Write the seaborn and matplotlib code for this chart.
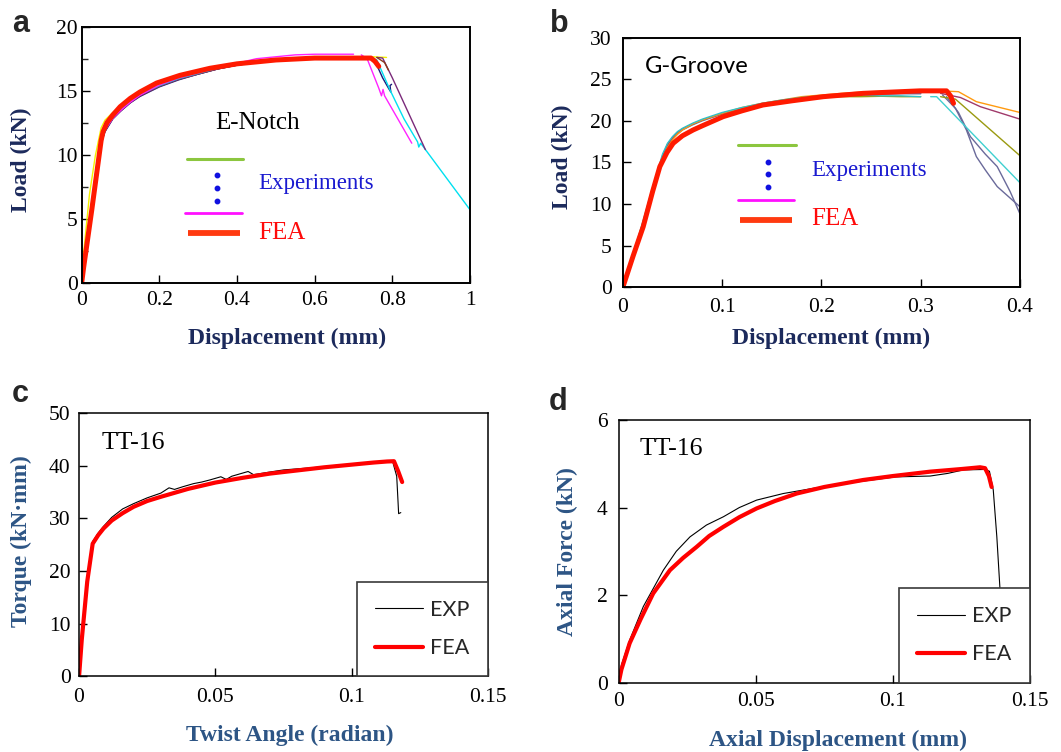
import matplotlib
matplotlib.use("Agg")
import matplotlib.pyplot as plt
import seaborn as sns
from matplotlib.ticker import MultipleLocator, FuncFormatter

# ---------------- DATA ----------------
# Panel a : E-Notch, load (kN) vs displacement (mm)
a_fea_x = [0, 0.005, 0.026, 0.05, 0.055, 0.065, 0.08, 0.099, 0.125, 0.15, 0.193, 0.253, 0.33, 0.4, 0.5, 0.6, 0.7, 0.745, 0.755, 0.765]
a_fea_y = [0, 1.2, 5.7, 11.1, 11.8, 12.5, 13.1, 13.75, 14.4, 14.9, 15.6, 16.2, 16.75, 17.1, 17.4, 17.55, 17.55, 17.55, 17.3, 16.9]

a_rise_x = [0, 0.005, 0.02, 0.035, 0.05, 0.06, 0.08, 0.1, 0.125, 0.15, 0.2, 0.25, 0.3, 0.35, 0.4, 0.45, 0.5, 0.55, 0.6, 0.65, 0.7]
a_yellow_y = [0, 2.3, 6.9, 9.9, 12.1, 12.7, 13.3, 13.8, 14.4, 14.9, 15.6, 16.1, 16.5, 16.85, 17.1, 17.3, 17.45, 17.55, 17.6, 17.65, 17.65]
a_navy_y = [0, 1.2, 4.6, 8.0, 10.9, 11.8, 12.8, 13.4, 14.05, 14.55, 15.3, 15.85, 16.3, 16.7, 17.0, 17.2, 17.35, 17.45, 17.5, 17.55, 17.55]
a_cyan_y = [0, 1.4, 5.0, 8.4, 11.2, 12.0, 12.9, 13.5, 14.15, 14.7, 15.4, 15.95, 16.35, 16.75, 17.05, 17.25, 17.4, 17.5, 17.55, 17.6, 17.6]
a_magenta_y = [0, 1.3, 4.9, 8.3, 11.1, 11.95, 12.85, 13.45, 14.1, 14.65, 15.45, 16.0, 16.4, 16.8, 17.15, 17.5, 17.65, 17.8, 17.85, 17.85, 17.85]
a_purple_y = [0, 1.2, 4.7, 8.1, 10.9, 11.85, 12.8, 13.4, 14.05, 14.6, 15.35, 15.9, 16.3, 16.7, 17.0, 17.25, 17.4, 17.5, 17.55, 17.6, 17.6]
a_brown_y = [0, 1.3, 4.8, 8.2, 11.0, 11.9, 12.85, 13.45, 14.1, 14.6, 15.35, 15.9, 16.3, 16.7, 17.0, 17.2, 17.35, 17.45, 17.5, 17.55, 17.55]

a_yellow_tail_x = [0.75, 0.785]
a_yellow_tail_y = [17.65, 17.6]
a_navy_tail_x = [0.75, 0.76, 0.775, 0.79, 0.796, 0.794, 0.798]
a_navy_tail_y = [17.5, 17.0, 16.0, 15.2, 14.9, 15.4, 15.5]
a_cyan_tail_x = [0.75, 0.76, 0.794, 0.83, 0.865, 0.868, 0.873, 1.0]
a_cyan_tail_y = [17.55, 17.4, 15.05, 12.8, 11.0, 10.6, 10.9, 5.7]
a_magenta_tail_x = [0.72, 0.735, 0.765, 0.772, 0.776, 0.78, 0.85]
a_magenta_tail_y = [17.8, 17.5, 15.2, 14.6, 15.1, 14.6, 10.9]
a_purple_tail_x = [0.76, 0.775, 0.8, 0.885]
a_purple_tail_y = [17.6, 17.55, 16.0, 10.4]
a_brown_tail_x = [0.76, 0.78, 0.79]
a_brown_tail_y = [17.6, 17.2, 16.6]

# Panel b : G-Groove
b_fea_x = [0, 0.005, 0.0105, 0.0205, 0.03, 0.0373, 0.0445, 0.0507, 0.06, 0.0708, 0.08, 0.101, 0.12, 0.141, 0.17, 0.2018, 0.242, 0.27, 0.299, 0.326, 0.33, 0.333]
b_fea_y = [0, 1.8, 3.8, 7.26, 11.5, 14.5, 16.2, 17.3, 18.2, 18.9, 19.4, 20.5, 21.2, 21.9, 22.4, 22.9, 23.3, 23.45, 23.6, 23.6, 23.0, 22.1]

b_rise_x = [0, 0.01, 0.02, 0.03, 0.04, 0.045, 0.05, 0.055, 0.06, 0.07, 0.08, 0.09, 0.1, 0.12, 0.14, 0.16, 0.18, 0.2, 0.22, 0.24, 0.26, 0.28, 0.3]
b_cyan_y = [0, 3.8, 7.8, 12.0, 16.0, 17.3, 18.1, 18.7, 19.1, 19.7, 20.2, 20.6, 21.0, 21.6, 22.1, 22.5, 22.8, 23.0, 23.1, 23.1, 23.0, 23.0, 22.9]
b_orange_y = [0, 3.6, 7.5, 11.6, 15.4, 16.8, 17.7, 18.4, 18.9, 19.6, 20.1, 20.5, 20.9, 21.6, 22.1, 22.5, 22.9, 23.1, 23.3, 23.45, 23.55, 23.6, 23.6]
b_maroon_y = [0, 3.7, 7.6, 11.8, 15.7, 17.1, 17.9, 18.5, 19.0, 19.6, 20.1, 20.5, 20.9, 21.5, 22.0, 22.4, 22.8, 23.0, 23.2, 23.3, 23.35, 23.4, 23.4]
b_olive_y = [0, 3.7, 7.7, 11.8, 15.8, 17.2, 18.0, 18.6, 19.0, 19.6, 20.1, 20.5, 20.9, 21.5, 21.9, 22.3, 22.6, 22.8, 22.9, 22.9, 22.95, 22.9, 22.9]
b_slate1_y = [0, 3.7, 7.6, 11.7, 15.6, 17.0, 17.9, 18.5, 19.0, 19.6, 20.1, 20.5, 20.9, 21.5, 22.0, 22.4, 22.7, 22.95, 23.1, 23.2, 23.25, 23.3, 23.3]
b_slate2_y = [0, 3.6, 7.5, 11.6, 15.5, 16.9, 17.8, 18.4, 18.9, 19.5, 20.0, 20.4, 20.8, 21.4, 21.9, 22.3, 22.6, 22.9, 23.05, 23.15, 23.2, 23.25, 23.25]

b_cyan_tail_x = [0.31, 0.316, 0.4]
b_cyan_tail_y = [22.9, 22.9, 12.55]
b_orange_tail_x = [0.32, 0.338, 0.356, 0.4]
b_orange_tail_y = [23.6, 23.5, 22.3, 21.0]
b_maroon_tail_x = [0.32, 0.34, 0.36, 0.4]
b_maroon_tail_y = [23.3, 22.8, 21.7, 20.2]
b_olive_tail_x = [0.32, 0.335, 0.4]
b_olive_tail_y = [22.9, 22.6, 15.8]
b_slate1_tail_x = [0.322, 0.335, 0.346, 0.356, 0.365, 0.377, 0.4]
b_slate1_tail_y = [23.1, 21.5, 18.9, 15.7, 14.1, 12.1, 9.66]
b_slate2_tail_x = [0.326, 0.338, 0.35, 0.365, 0.377, 0.39, 0.4]
b_slate2_tail_y = [22.9, 21.0, 18.1, 16.0, 14.5, 11.5, 8.8]

# Panel c : TT-16 torque (kN.mm) vs twist angle (radian)
c_exp_x = [0, 0.001, 0.003, 0.005, 0.007, 0.009, 0.012, 0.016, 0.02, 0.025, 0.03, 0.033, 0.035, 0.038, 0.042, 0.045, 0.048, 0.052, 0.054, 0.056, 0.06, 0.062, 0.064, 0.07, 0.075, 0.08, 0.085, 0.09, 0.095, 0.1, 0.105, 0.11, 0.115, 0.1165, 0.117, 0.1172, 0.118]
c_exp_y = [0, 8, 19, 25.6, 27.2, 28.5, 30.2, 31.8, 32.8, 33.9, 34.8, 35.8, 35.5, 36.0, 36.6, 36.9, 37.3, 37.9, 37.4, 38.0, 38.6, 38.9, 38.3, 38.8, 39.2, 39.4, 39.6, 39.8, 40.1, 40.3, 40.5, 40.7, 40.8, 38.0, 33.0, 30.9, 31.1]
c_fea_x = [0, 0.001, 0.003, 0.005, 0.007, 0.009, 0.012, 0.016, 0.02, 0.025, 0.03, 0.04, 0.05, 0.06, 0.07, 0.08, 0.09, 0.1, 0.108, 0.113, 0.1155, 0.117, 0.1185]
c_fea_y = [0, 7, 18, 25.2, 26.8, 28.1, 29.6, 31.0, 32.2, 33.3, 34.1, 35.6, 36.8, 37.7, 38.5, 39.1, 39.7, 40.2, 40.6, 40.8, 40.85, 39.0, 36.9]

# Panel d : TT-16 axial force (kN) vs axial displacement (mm)
d_exp_x = [0, 0.001, 0.004, 0.009, 0.0163, 0.021, 0.026, 0.032, 0.0382, 0.044, 0.0503, 0.06, 0.071, 0.085, 0.101, 0.1136, 0.12, 0.1257, 0.1336, 0.1352, 0.1366, 0.1379, 0.139, 0.1398, 0.1405]
d_exp_y = [0, 0.4, 0.97, 1.74, 2.57, 3.0, 3.33, 3.6, 3.79, 4.0, 4.17, 4.32, 4.44, 4.57, 4.70, 4.72, 4.78, 4.86, 4.87, 4.83, 4.4, 3.33, 2.19, 1.2, 0.3]
d_fea_x = [0, 0.001, 0.004, 0.008, 0.0126, 0.0187, 0.0235, 0.0284, 0.033, 0.0382, 0.044, 0.0503, 0.057, 0.0649, 0.075, 0.0892, 0.1, 0.1136, 0.125, 0.1318, 0.1336, 0.135, 0.136]
d_fea_y = [0, 0.3, 0.9, 1.45, 2.04, 2.57, 2.85, 3.1, 3.35, 3.56, 3.78, 3.98, 4.15, 4.32, 4.47, 4.63, 4.72, 4.82, 4.88, 4.92, 4.9, 4.72, 4.47]

# ---------------- STYLE ----------------
sns.set_style("ticks")
plt.rcParams['font.family'] = ['Liberation Serif', 'DejaVu Serif']
plt.rcParams['axes.grid'] = False

NAVY = "#1c2a5c"
STEEL = "#2d5585"
SERIF = ['Liberation Serif', 'DejaVu Serif']
SANS = ['Liberation Sans', 'DejaVu Sans']

fig = plt.figure(figsize=(10.61, 7.52), dpi=100)
ax_a = fig.add_axes([0.077, 0.624, 0.366, 0.3405])
ax_b = fig.add_axes([0.587, 0.618, 0.3744, 0.332])
ax_c = fig.add_axes([0.0745, 0.1004, 0.3855, 0.3504])
ax_d = fig.add_axes([0.5831, 0.0922, 0.3877, 0.3493])

fmt = FuncFormatter(lambda v, p: "%g" % round(v, 6))


def style(ax, xmax, xstep, ymax, ystep, xpad, ypad, spine_lw, yminor=None):
    ax.set_xlim(0, xmax)
    ax.set_ylim(0, ymax)
    ax.xaxis.set_major_locator(MultipleLocator(xstep))
    ax.yaxis.set_major_locator(MultipleLocator(ystep))
    if yminor:
        ax.yaxis.set_minor_locator(MultipleLocator(yminor))
        ax.tick_params(axis='y', which='minor', direction='in', length=4, width=1)
    ax.xaxis.set_major_formatter(fmt)
    ax.yaxis.set_major_formatter(fmt)
    ax.tick_params(axis='both', which='major', direction='in', length=6, width=1,
                   labelsize=15.5, colors='black', top=False, right=False)
    ax.tick_params(axis='x', pad=xpad)
    ax.tick_params(axis='y', pad=ypad)
    for lab in ax.get_xticklabels() + ax.get_yticklabels():
        lab.set_family(SERIF)
    for sp in ax.spines.values():
        sp.set_visible(True)
        sp.set_color('black')
        sp.set_linewidth(spine_lw)


def draw(ax, x, y, color, lw, label=None):
    sns.lineplot(x=x, y=y, ax=ax, color=color, lw=lw, sort=False, estimator=None,
                 label=label, legend=bool(label))


# ---------- panel a ----------
exp_lw = 1.0
draw(ax_a, a_rise_x, a_navy_y, "#1a1a7a", exp_lw)
draw(ax_a, a_rise_x, a_brown_y, "#8b3a1a", exp_lw)
draw(ax_a, a_rise_x, a_purple_y, "#7a2a7a", exp_lw)
draw(ax_a, a_rise_x, a_cyan_y, "#19c8c8", exp_lw)
draw(ax_a, a_rise_x, a_magenta_y, "#ff22ff", exp_lw)
draw(ax_a, a_rise_x, a_yellow_y, "#f5f000", exp_lw)
draw(ax_a, a_yellow_tail_x, a_yellow_tail_y, "#f5f000", exp_lw)
draw(ax_a, a_navy_tail_x, a_navy_tail_y, "#1a1a7a", exp_lw)
draw(ax_a, a_cyan_tail_x, a_cyan_tail_y, "#00e0f0", exp_lw)
draw(ax_a, a_magenta_tail_x, a_magenta_tail_y, "#ff22ff", exp_lw)
draw(ax_a, a_purple_tail_x, a_purple_tail_y, "#7a2a7a", exp_lw)
draw(ax_a, a_brown_tail_x, a_brown_tail_y, "#8b3a1a", exp_lw)
draw(ax_a, a_fea_x, a_fea_y, "#ff1a00", 3.6)
style(ax_a, 1.0, 0.2, 20, 5, 6, 3, 1.4, yminor=2.5)

# ---------- panel b ----------
draw(ax_b, b_rise_x, b_slate2_y, "#6a6a9a", exp_lw)
draw(ax_b, b_rise_x, b_slate1_y, "#7a6a9a", exp_lw)
draw(ax_b, b_rise_x, b_olive_y, "#9a9a10", exp_lw)
draw(ax_b, b_rise_x, b_maroon_y, "#a03a6a", exp_lw)
draw(ax_b, b_rise_x, b_orange_y, "#ff9a10", exp_lw)
draw(ax_b, b_rise_x, b_cyan_y, "#30c0c8", exp_lw)
draw(ax_b, b_slate1_tail_x, b_slate1_tail_y, "#6a6a9a", exp_lw)
draw(ax_b, b_slate2_tail_x, b_slate2_tail_y, "#6a6a9a", exp_lw)
draw(ax_b, b_olive_tail_x, b_olive_tail_y, "#9a9a10", exp_lw)
draw(ax_b, b_maroon_tail_x, b_maroon_tail_y, "#a03a6a", exp_lw)
draw(ax_b, b_orange_tail_x, b_orange_tail_y, "#ff9a10", exp_lw)
draw(ax_b, b_cyan_tail_x, b_cyan_tail_y, "#40d0d0", exp_lw)
draw(ax_b, b_fea_x, b_fea_y, "#ff1a00", 3.6)
style(ax_b, 0.4, 0.1, 30, 5, 8, 8, 1.4)

# custom legends (a, b)
def custom_legend(ax, gx, gy, dots_x, dots_y, mx, my, rx, ry, tx, ty_exp, ty_fea):
    ax.plot(gx, [gy, gy], transform=ax.transAxes, color="#8cc63f", lw=2.2, clip_on=False)
    ax.plot([dots_x] * 3, dots_y, transform=ax.transAxes, ls='none', marker='o',
            ms=3.2, color="#1010e0", clip_on=False)
    ax.plot(mx, [my, my], transform=ax.transAxes, color="#ff10ff", lw=2.0, clip_on=False)
    ax.plot(rx, [ry, ry], transform=ax.transAxes, color="#ff3a10", lw=4.2, clip_on=False,
            solid_capstyle='butt')
    ax.text(tx, ty_exp, "Experiments", transform=ax.transAxes, color="#1a1ad0",
            fontsize=16.5, family=SERIF, va='center', ha='left')
    ax.text(tx, ty_fea, "FEA", transform=ax.transAxes, color="#ff0a0a",
            fontsize=18, family=SERIF, va='center', ha='left')

custom_legend(ax_a, [0.27, 0.416], 0.483, 0.348, [0.421, 0.369, 0.320],
              [0.266, 0.414], 0.271, [0.275, 0.408], 0.193, 0.455, 0.386, 0.193)
ax_a.text(0.343, 0.625, "E-Notch", transform=ax_a.transAxes, fontsize=18,
          family=SERIF, va='center', ha='left', color='black')

custom_legend(ax_b, [0.291, 0.435], 0.570, 0.366, [0.503, 0.453, 0.402],
              [0.289, 0.432], 0.349, [0.295, 0.425], 0.269, 0.474, 0.467, 0.272)
ax_b.text(0.055, 0.885, "G-Groove", transform=ax_b.transAxes, fontsize=17,
          family=['Lato', 'DejaVu Sans'], va='center', ha='left', color='black')

# ---------- panel c ----------
draw(ax_c, c_exp_x, c_exp_y, "black", 0.8, label="EXP")
draw(ax_c, c_fea_x, c_fea_y, "#ff0000", 3.0, label="FEA")
style(ax_c, 0.15, 0.05, 50, 10, 8, 6, 1.1)
ax_c.text(0.055, 0.887, "TT-16", transform=ax_c.transAxes, fontsize=18.5,
          family=SERIF, va='center', ha='left', color='black')

# ---------- panel d ----------
draw(ax_d, d_exp_x, d_exp_y, "black", 0.8, label="EXP")
draw(ax_d, d_fea_x, d_fea_y, "#ff0000", 3.0, label="FEA")
style(ax_d, 0.15, 0.05, 6, 2, 7, 8, 1.1)
ax_d.text(0.052, 0.888, "TT-16", transform=ax_d.transAxes, fontsize=18.5,
          family=SERIF, va='center', ha='left', color='black')

for ax in (ax_c, ax_d):
    leg = ax.legend(loc='lower right', bbox_to_anchor=(1.0, 0.0), borderaxespad=0,
                    frameon=True, fancybox=False, framealpha=1, edgecolor='#3a3a3a',
                    handlelength=2.2, handletextpad=0.35, borderpad=0.85, labelspacing=0.85,
                    prop={'family': ['Lato', 'DejaVu Sans'], 'size': 15.5})
    leg.get_frame().set_linewidth(1.2)

# ---------- axis labels ----------
def labels(ax, xl, yl, color, xpos, ypos):
    ax.set_xlabel(xl, fontsize=17, fontweight='bold', color=color, family=SERIF, va='center', ha='center')
    ax.set_ylabel(yl, fontsize=17, fontweight='bold', color=color, family=SERIF, va='center', ha='center')
    ax.xaxis.set_label_coords(*xpos)
    ax.yaxis.set_label_coords(*ypos)

labels(ax_a, "Displacement (mm)", "Load (kN)", NAVY, (0.53, -0.216), (-0.154, 0.479))
labels(ax_b, "Displacement (mm)", "Load (kN)", NAVY, (0.523, -0.206), (-0.152, 0.523))
labels(ax_c, "Twist Angle (radian)", "Torque (kN\u00b7mm)", STEEL, (0.515, -0.222), (-0.142, 0.512))
labels(ax_d, "Axial Displacement (mm)", "Axial Force (kN)", STEEL, (0.532, -0.218), (-0.1245, 0.499))

# ---------- panel letters ----------
for x, y, t in [(0.011, 0.9574, 'a'), (0.518, 0.958, 'b'), (0.011, 0.4658, 'c'), (0.517, 0.4548, 'd')]:
    fig.text(x, y, t, fontsize=22, fontweight='bold', family=SANS, va='baseline', ha='left')

fig.savefig("out.png", dpi=100)
